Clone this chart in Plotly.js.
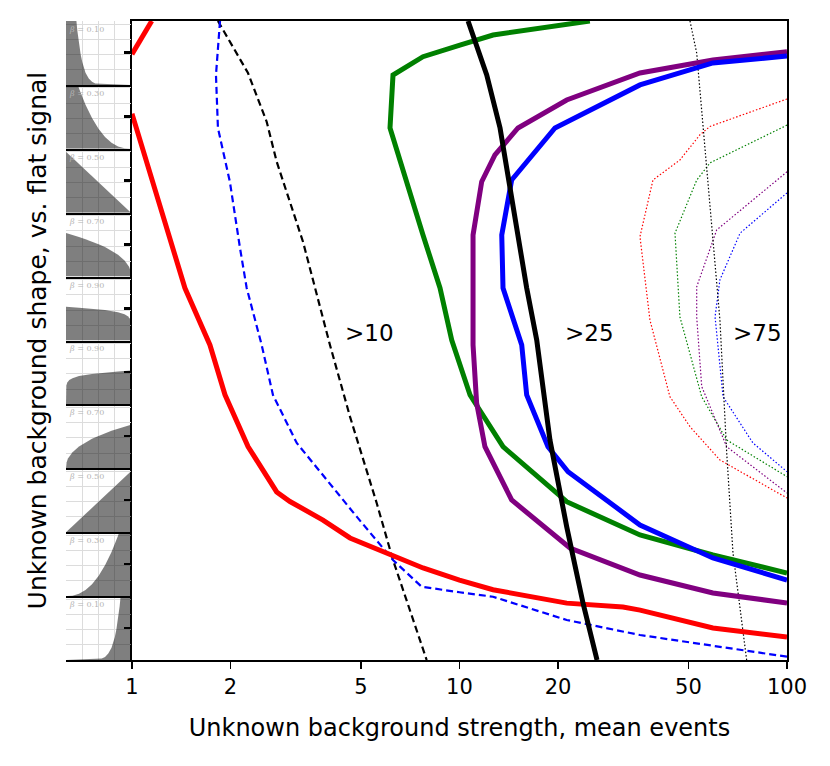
<!DOCTYPE html>
<html>
<head>
<meta charset="utf-8">
<script src="https://cdn.plot.ly/plotly-3.0.1.min.js"></script>
<style>
  body { margin: 0; background: #fff; }
  #chart { width: 830px; height: 766px; }
</style>
</head>
<body>
<div id="chart"></div>
<script>
// main curves, x = mean background events, y = shape row (0 bottom .. 10 top)
let redX = [1.0, 1.149, null, 1.0, 1.451, 1.73, 1.923, 2.261, 2.766, 3.037, 3.83, 4.631, 6.0, 7.74, 10.0, 12.66, 21.25, 31.56, 35.6, 59.4, 100];
let redY = [9.48, 10.0, null, 8.55, 5.82, 4.93, 4.15, 3.34, 2.63, 2.48, 2.19, 1.91, 1.67, 1.44, 1.25, 1.10, 0.89, 0.83, 0.78, 0.50, 0.36];

let blueDashX = [1.857, 1.805, 1.830, 1.991, 2.137, 2.240, 2.489, 2.695, 3.185, 3.931, 4.855, 6.266, 7.665, 10.0, 12.66, 21.25, 35.57, 100];
let blueDashY = [10.0, 9.155, 8.326, 7.48, 6.448, 5.822, 4.93, 4.147, 3.396, 2.817, 2.243, 1.565, 1.147, 1.06, 0.99, 0.626, 0.391, 0.052];

let blackDashX = [1.830, 2.261, 2.578, 2.766, 3.328, 4.023, 4.631, 5.587, 6.266, 7.94];
let blackDashY = [10.0, 9.186, 8.424, 7.798, 6.546, 4.93, 3.808, 2.457, 1.565, 0];

let greenX = [25.0, 12.66, 10.03, 7.737, 6.266, 6.136, 7.737, 8.72, 9.468, 10.77, 13.58, 21.25, 35.57, 59.4, 100];
let greenY = [10.0, 9.781, 9.624, 9.441, 9.155, 8.326, 6.651, 5.822, 5.008, 4.147, 3.338, 2.477, 1.956, 1.643, 1.362];

let purpleX = [100, 59.4, 35.57, 21.25, 15.09, 12.83, 11.69, 11.0, 11.0, 11.28, 11.96, 14.43, 21.75, 35.57, 59.4, 100];
let purpleY = [9.52, 9.39, 9.186, 8.764, 8.326, 7.903, 7.485, 6.651, 4.93, 4.022, 3.338, 2.504, 1.753, 1.330, 1.049, 0.892];

let blueX = [100, 59.4, 35.57, 19.57, 14.43, 13.46, 13.58, 15.49, 16.04, 18.63, 21.45, 27.43, 35.57, 59.4, 100];
let blueY = [9.452, 9.343, 9.0, 8.326, 7.512, 6.651, 5.822, 4.93, 4.147, 3.338, 2.947, 2.535, 2.113, 1.596, 1.252];

let blackX = [10.62, 12.11, 13.30, 14.95, 16.04, 17.21, 18.89, 21.25, 23.83, 26.3];
let blackY = [10.0, 9.155, 8.326, 6.761, 5.822, 5.008, 3.443, 2.086, 0.892, 0];

let blackDotX = [50.56, 53.0, 62.4, 65.45, 68.4, 75.3];
let blackDotY = [10.0, 9.499, 5.321, 3.239, 1.675, 0];

let redDotX = [100, 58.2, 54.25, 47.1, 38.97, 35.57, 38.15, 43.9, 50.56, 62.4, 100];
let redDotY = [8.78, 8.35, 8.22, 7.825, 7.512, 6.625, 5.321, 4.121, 3.651, 3.13, 2.535];

let greenDotX = [100, 58.2, 53.0, 45.5, 47.1, 54.9, 65.45, 100];
let greenDotY = [8.37, 7.78, 7.51, 6.68, 5.37, 4.12, 3.443, 2.869];

let purpleDotX = [100, 61.0, 53.0, 53.0, 54.9, 65.45, 100];
let purpleDotY = [7.64, 6.73, 5.84, 5.37, 4.28, 3.338, 2.613];

let blueDotX = [100, 71.9, 62.4, 60.3, 63.8, 78.7, 100];
let blueDotY = [7.31, 6.68, 5.95, 5.37, 4.12, 3.396, 2.947];

// region labels
let regionText = [">10", ">25", ">75"];
let regionX = [5.33, 25.0, 81.0];
let regionY = [5.12, 5.12, 5.12];

// inset shapes (rising form), rows listed bottom to top
let rowBeta = [0.10, 0.30, 0.50, 0.70, 0.90, 0.90, 0.70, 0.50, 0.30, 0.10];
let rowFalling = [false, false, false, false, false, true, true, true, true, true];

let shapeX = {
  0.10: [0, 0.5, 0.55, 0.6, 0.65, 0.7, 0.725, 0.75, 0.775, 0.8, 0.825, 0.85, 0.9, 1],
  0.30: [0, 0.1, 0.2, 0.3, 0.4, 0.5, 0.6, 0.7, 0.8, 0.9, 1],
  0.50: [0, 1],
  0.70: [0, 0.01, 0.03, 0.06, 0.1, 0.2, 0.3, 0.4, 0.5, 0.6, 0.7, 0.8, 0.9, 1],
  0.90: [0, 0.001, 0.005, 0.02, 0.05, 0.1, 0.2, 0.4, 0.6, 0.8, 1]
};
let shapeY = {
  0.10: [0, 0.02, 0.046, 0.1, 0.21, 0.4, 0.55, 0.75, 1.01, 1.34, 1.77, 2.32, 3.87, 10],
  0.30: [0, 0.015, 0.079, 0.2, 0.39, 0.66, 1.01, 1.45, 1.98, 2.6, 3.33],
  0.50: [0, 2],
  0.70: [0, 0.2, 0.32, 0.43, 0.53, 0.72, 0.85, 0.97, 1.06, 1.15, 1.23, 1.30, 1.37, 1.43],
  0.90: [0, 0.52, 0.62, 0.72, 0.80, 0.86, 0.93, 1.00, 1.05, 1.08, 1.11]
};

function curve(x, y, color, width, dash){
  return {
    x: x, y: y, xaxis: 'x', yaxis: 'y',
    type: 'scatter', mode: 'lines',
    line: {color: color, width: width, dash: dash || 'solid'},
    connectgaps: false, hoverinfo: 'skip', cliponaxis: true
  };
}

function makeChart(){
  let data = [];
  let layout = {
    width: 830, height: 766,
    margin: {l: 66, r: 43, t: 21, b: 106},
    paper_bgcolor: '#fff', plot_bgcolor: 'rgba(0,0,0,0)',
    showlegend: false,
    font: {family: 'DejaVu Sans', color: '#000'},
    xaxis: {
      type: 'log', range: [0, 2], domain: [0.0915, 1], anchor: 'y',
      tickvals: [1, 2, 5, 10, 20, 50, 100], ticktext: ['1', '2', '5', '10', '20', '50', '100'],
      ticks: 'outside', ticklen: 7, tickwidth: 1.5, tickcolor: '#000',
      tickfont: {size: 21},
      showgrid: false, zeroline: false,
      showline: true, mirror: true, linecolor: '#000', linewidth: 2,
      title: {text: 'Unknown background strength, mean events', font: {size: 24}, standoff: 21}
    },
    yaxis: {
      range: [0, 10], domain: [0, 1], anchor: 'x',
      tickvals: [0.5, 1.5, 2.5, 3.5, 4.5, 5.5, 6.5, 7.5, 8.5, 9.5],
      showticklabels: false,
      ticks: 'outside', ticklen: 6, tickwidth: 3, tickcolor: '#000',
      showgrid: false, zeroline: false,
      showline: true, mirror: true, linecolor: '#000', linewidth: 2
    },
    annotations: [],
    shapes: []
  };

  // small shape panels on the left
  for (let k = 0; k < rowBeta.length; k++){
    let b = rowBeta[k];
    let xs = shapeX[b].map(v => rowFalling[k] ? 1 - v : v);
    let n = k + 2;
    data.push({
      x: xs, y: shapeY[b], xaxis: 'x' + n, yaxis: 'y' + n,
      type: 'scatter', mode: 'lines', fill: 'tozeroy',
      fillcolor: 'rgba(0,0,0,0.5)', line: {width: 0, color: 'rgba(0,0,0,0)'},
      hoverinfo: 'skip'
    });
    layout['xaxis' + n] = {
      domain: [0, 0.0902], anchor: 'y' + n, range: [0, 1],
      dtick: 0.25, showticklabels: false, ticks: '',
      showgrid: true, gridcolor: '#dcdcdc', gridwidth: 1, zeroline: false,
      showline: true, linecolor: '#000', linewidth: 2
    };
    layout['yaxis' + n] = {
      domain: [k / 10, (k + 1) / 10], anchor: 'x' + n, range: [0, 2.1],
      dtick: 0.5, showticklabels: false, ticks: '',
      showgrid: true, gridcolor: '#dcdcdc', gridwidth: 1, zeroline: false,
      showline: false
    };
    layout.annotations.push({
      xref: 'x' + n + ' domain', yref: 'y' + n + ' domain', x: 0.02, y: 0.97,
      xanchor: 'left', yanchor: 'top', showarrow: false,
      text: '<i>β</i> = ' + b.toFixed(2),
      font: {family: 'DejaVu Serif', size: 8, color: '#b4b4b4'}
    });
  }

  data.push(curve(redDotX, redDotY, '#ff0000', 1.2, '1.5px,2px'));
  data.push(curve(greenDotX, greenDotY, '#008000', 1.2, '1.5px,2px'));
  data.push(curve(purpleDotX, purpleDotY, '#800080', 1.2, '1.5px,2px'));
  data.push(curve(blueDotX, blueDotY, '#0000ff', 1.2, '1.5px,2px'));
  data.push(curve(blackDotX, blackDotY, '#000', 1.2, '1.5px,2px'));
  data.push(curve(blackDashX, blackDashY, '#000', 2.2, '7px,4px'));
  data.push(curve(blueDashX, blueDashY, '#0000ff', 2.2, '7px,4px'));
  data.push(curve(redX, redY, '#ff0000', 5));
  data.push(curve(greenX, greenY, '#008000', 5));
  data.push(curve(purpleX, purpleY, '#800080', 5));
  data.push(curve(blueX, blueY, '#0000ff', 5));
  data.push(curve(blackX, blackY, '#000', 5));

  for (let i = 0; i < regionText.length; i++){
    layout.annotations.push({
      xref: 'x', yref: 'y', x: Math.log10(regionX[i]), y: regionY[i],
      text: regionText[i], showarrow: false,
      font: {size: 23, color: '#000'}
    });
  }

  layout.annotations.push({
    xref: 'paper', yref: 'paper', x: -0.039, y: 0.5,
    xanchor: 'center', yanchor: 'middle', textangle: -90, showarrow: false,
    text: 'Unknown background shape, vs. flat signal',
    font: {size: 25, color: '#000'}
  });

  Plotly.newPlot('chart', data, layout, {staticPlot: true});
}

makeChart();
</script>
</body>
</html>
